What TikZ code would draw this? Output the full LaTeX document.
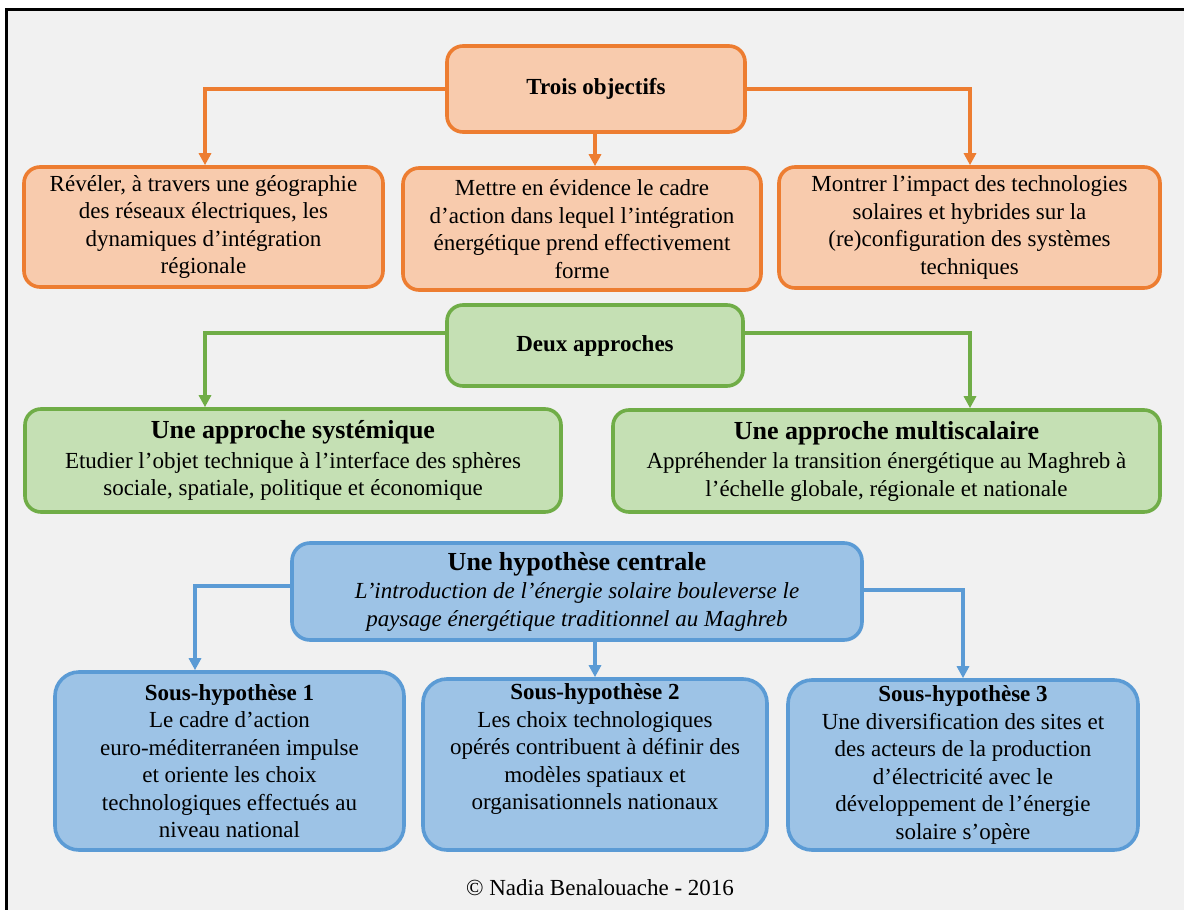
\documentclass[tikz,border=0pt]{standalone}
\usepackage{fontspec}
\setmainfont{Liberation Serif}
\usetikzlibrary{arrows.meta}
\definecolor{bgc}{HTML}{F1F1F1}
\definecolor{ofill}{HTML}{F8CBAD}
\definecolor{oline}{HTML}{ED7D31}
\definecolor{gfill}{HTML}{C5E0B4}
\definecolor{gline}{HTML}{70AD47}
\definecolor{bfill}{HTML}{9DC3E6}
\definecolor{bline}{HTML}{5B9BD5}
\newcommand\bodyfnt{\fontsize{23}{27.5}\selectfont}
\newcommand\titfnt{\fontsize{26}{30}\selectfont\bfseries}
\begin{document}
\begin{tikzpicture}[x=1pt,y=-1pt,
  box/.style={rounded corners=16pt, line width=3.6pt, align=center, inner sep=0pt, font=\bodyfnt},
  obox/.style={box, draw=oline, fill=ofill},
  gbox/.style={box, draw=gline, fill=gfill},
  bbox/.style={box, draw=bline, fill=bfill, rounded corners=24pt},
  txt/.style={align=center, inner sep=0pt, font=\bodyfnt},
  conn/.style={line width=3.2pt, -{Triangle[length=12pt,width=12pt]}},
  oarr/.style={conn, draw=oline},
  garr/.style={conn, draw=gline},
  barr/.style={conn, draw=bline},
]
\useasboundingbox (0,0) rectangle (1184,910);
\fill[white] (0,0) rectangle (1184,910);
\fill[bgc] (7,10) rectangle (1184,910);
\draw[line width=3pt] (6,910) -- (6,9) -- (1184,9);

% Orange
\node[obox, minimum width=298pt, minimum height=86pt, font=\bodyfnt\bfseries] (obj) at (596,89) {Trois objectifs};
\node[obox, minimum width=359pt, minimum height=120pt] (o1) at (203.5,227) {Révéler, à travers une géographie\\des réseaux électriques, les\\dynamiques d’intégration\\régionale};
\node[obox, minimum width=358pt, minimum height=122pt] (o2) at (582,229) {Mettre en évidence le cadre\\d’action dans lequel l’intégration\\énergétique prend effectivement\\forme};
\node[obox, minimum width=381pt, minimum height=121pt] (o3) at (969.5,227.5) {Montrer l’impact des technologies\\solaires et hybrides sur la\\(re)configuration des systèmes\\techniques};
\draw[oarr] (obj.west) -| (o1.north -| 205,0);
\draw[oarr] (obj.south -| 595,0) -- (o2.north -| 595,0);
\draw[oarr] (obj.east) -| (o3.north -| 970,0);

% Green
\node[gbox, minimum width=296pt, minimum height=81pt, font=\bodyfnt\bfseries] (dap) at (595,345.5) {Deux approches};
\node[gbox, minimum width=536pt, minimum height=103pt] (g1) at (293,460.5) {{\titfnt Une approche systémique}\\[2pt]Etudier l’objet technique à l’interface des sphères\\sociale, spatiale, politique et économique};
\node[gbox, minimum width=547pt, minimum height=102pt] (g2) at (886.5,461) {{\titfnt Une approche multiscalaire}\\[2pt]Appréhender la transition énergétique au Maghreb à\\l’échelle globale, régionale et nationale};
\draw[garr] (dap.west |- 0,333) -| (g1.north -| 205,0);
\draw[garr] (dap.east |- 0,333) -| (g2.north -| 970,0);

% Blue
\node[bbox, rounded corners=18pt, minimum width=570pt, minimum height=97pt] (hyp) at (577,591.5) {{\titfnt Une hypothèse centrale}\\[1pt]\itshape L’introduction de l’énergie solaire bouleverse le\\\itshape paysage énergétique traditionnel au Maghreb};
\node[bbox, minimum width=349pt, minimum height=178pt] (s1) at (229.5,761) {\textbf{Sous-hypothèse 1}\\Le cadre d’action\\euro-méditerranéen impulse\\et oriente les choix\\technologiques effectués au\\niveau national};
\node[bbox, minimum width=344pt, minimum height=171pt] (s2) at (595,764.5) {};
\node[txt] (s2t) at (595,749) {\textbf{Sous-hypothèse 2}\\Les choix technologiques\\opérés contribuent à définir des\\modèles spatiaux et\\organisationnels nationaux};
\node[bbox, minimum width=350pt, minimum height=170pt] (s3) at (963,765) {\textbf{Sous-hypothèse 3}\\Une diversification des sites et\\des acteurs de la production\\d’électricité avec le\\développement de l’énergie\\solaire s’opère};
\draw[barr] (hyp.west |- 0,586) -| (s1.north -| 195,0);
\draw[barr] (hyp.south -| 595,0) -- (s2.north -| 595,0);
\draw[barr] (hyp.east |- 0,590) -| (s3.north -| 963,0);

\node[txt] (cr) at (600,888) {© Nadia Benalouache - 2016};
\end{tikzpicture}
\end{document}
